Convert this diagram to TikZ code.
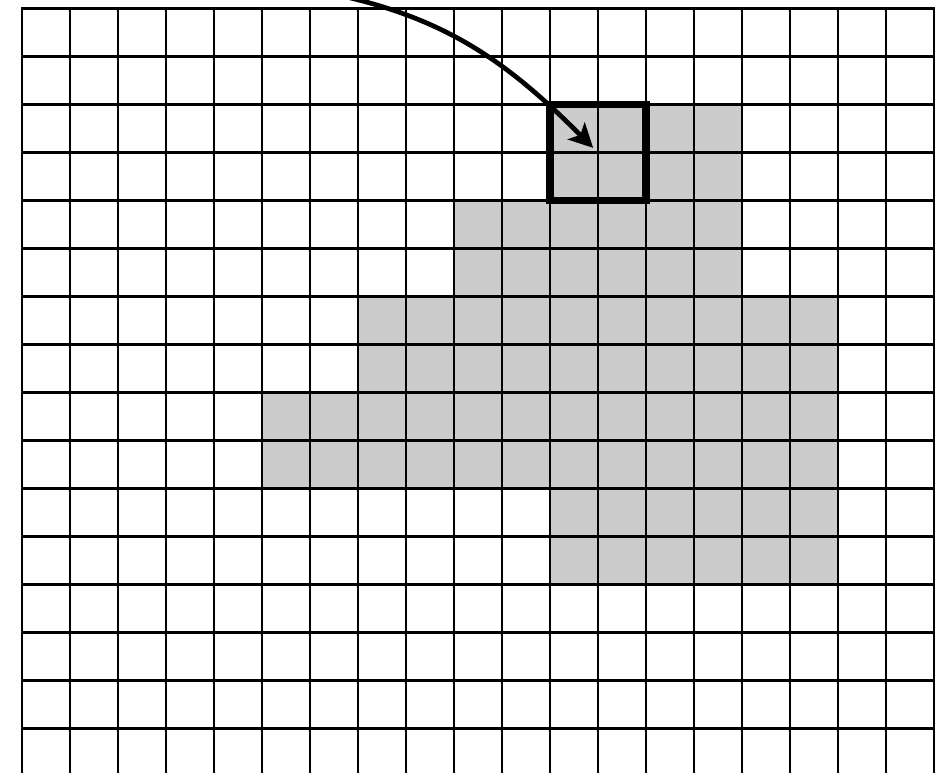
\documentclass[tikz,border=0pt]{standalone}
\usetikzlibrary{arrows.meta}
\definecolor{cellgray}{HTML}{CCCCCC}
\begin{document}
\begin{tikzpicture}[x=1cm,y=-1cm,
  gridline/.style={line width=1.5pt,black,line cap=rect},
  cellfill/.style={fill=cellgray},
  framebox/.style={line width=4.5pt,black},
  pointer/.style={line width=2.8pt,black,-{Stealth[length=0.5cm,width=0.5cm,inset=0.12cm]}}]
\useasboundingbox (-0.458,-0.181) rectangle (19.021,15.923);
\clip (-0.458,-0.181) rectangle (19.021,15.923);
% shaded region
\fill[cellfill] (11,2) rectangle (15,4);
\fill[cellfill] (9,4) rectangle (15,6);
\fill[cellfill] (7,6) rectangle (17,8);
\fill[cellfill] (5,8) rectangle (17,10);
\fill[cellfill] (11,10) rectangle (17,12);
% grid
\foreach \i in {0,...,19} \draw[gridline] (\i,0) -- (\i,16.5);
\foreach \j in {0,...,15} \draw[gridline] (0,\j) -- (19.6,\j);
% highlighted 2x2 block
\draw[framebox] (11,2) rectangle (13,4);
% arrow
\coordinate (src) at (6.6,-0.28);
\coordinate (dst) at (11.9,2.9);
\draw[pointer] (src) .. controls (8.945,0.236) and (10.203,1.203) .. (dst);
\end{tikzpicture}
\end{document}
